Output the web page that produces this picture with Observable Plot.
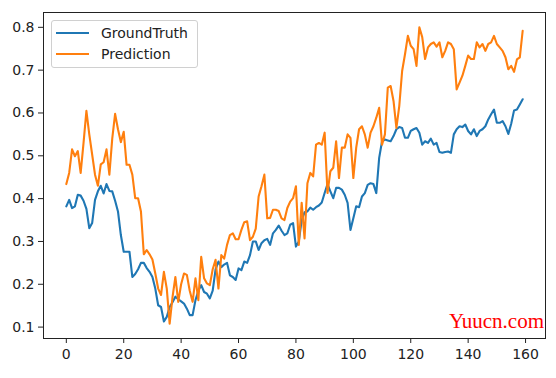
<!DOCTYPE html>
<html>
<head>
<meta charset="utf-8">
<script src="https://cdn.jsdelivr.net/npm/d3@7"></script>
<script src="https://cdn.jsdelivr.net/npm/@observablehq/plot@0.6"></script>
<style>
  html, body { margin: 0; padding: 0; background: #fff; }
  #wrap { position: relative; width: 556px; height: 378px; font-family: "DejaVu Sans", sans-serif; }
  #legend { position: absolute; left: 51px; top: 20px; width: 145px; height: 46px;
    border: 1px solid #d0d0d0; border-radius: 3px; background: rgba(255,255,255,0.85); }
  .lg-row { position: absolute; left: 4px; height: 20px; display: flex; align-items: center; font-size: 14px; color: #222; }
  .lg-row span.sw { display: inline-block; width: 33px; height: 2px; margin-right: 12px; }
  #wm { position: absolute; right: 12px; top: 309px; line-height: 24px; font-family: "Liberation Serif", "DejaVu Serif", serif; font-size: 21px; color: #f00; }
</style>
</head>
<body>
<div id="wrap"></div>
<script>
const seriesNames = ["GroundTruth", "Prediction"];
const seriesColors = ["#1f77b4", "#ff7f0e"];
const xTicks = [0, 20, 40, 60, 80, 100, 120, 140, 160];
const yTicks = [0.1, 0.2, 0.3, 0.4, 0.5, 0.6, 0.7, 0.8];

const groundTruth = [
  0.382, 0.397, 0.378, 0.382, 0.409, 0.407, 0.395, 0.376, 0.331, 0.343,
  0.397, 0.417, 0.430, 0.412, 0.434, 0.418, 0.417, 0.395, 0.370, 0.315,
  0.276, 0.276, 0.276, 0.217, 0.224, 0.235, 0.250, 0.250, 0.238, 0.229,
  0.217, 0.190, 0.151, 0.147, 0.113, 0.124, 0.147, 0.158, 0.171, 0.165,
  0.160, 0.155, 0.143, 0.128, 0.128, 0.163, 0.185, 0.198, 0.182, 0.178,
  0.167, 0.185, 0.235, 0.253, 0.240, 0.246, 0.250, 0.221, 0.217, 0.210,
  0.237, 0.233, 0.253, 0.250, 0.268, 0.300, 0.300, 0.280, 0.296, 0.303,
  0.306, 0.292, 0.319, 0.327, 0.337, 0.325, 0.315, 0.319, 0.339, 0.343,
  0.288, 0.300, 0.350, 0.368, 0.370, 0.379, 0.374, 0.380, 0.384, 0.391,
  0.413, 0.434, 0.417, 0.401, 0.425, 0.425, 0.421, 0.409, 0.390, 0.327,
  0.354, 0.382, 0.380, 0.405, 0.413, 0.432, 0.436, 0.434, 0.413, 0.495,
  0.534, 0.538, 0.536, 0.534, 0.546, 0.562, 0.567, 0.565, 0.542, 0.542,
  0.558, 0.562, 0.565, 0.554, 0.526, 0.534, 0.530, 0.540, 0.526, 0.530,
  0.509, 0.507, 0.509, 0.510, 0.507, 0.550, 0.562, 0.569, 0.567, 0.573,
  0.558, 0.550, 0.562, 0.546, 0.558, 0.562, 0.569, 0.585, 0.597, 0.608,
  0.577, 0.577, 0.581, 0.569, 0.551, 0.575, 0.606, 0.608, 0.620, 0.632
];

const prediction = [
  0.434, 0.460, 0.515, 0.499, 0.511, 0.460, 0.530, 0.605, 0.550, 0.503,
  0.456, 0.430, 0.480, 0.485, 0.515, 0.456, 0.540, 0.598, 0.562, 0.532,
  0.556, 0.479, 0.479, 0.456, 0.401, 0.401, 0.370, 0.270, 0.280, 0.270,
  0.258, 0.225, 0.190, 0.175, 0.229, 0.190, 0.108, 0.170, 0.217, 0.159,
  0.200, 0.225, 0.222, 0.185, 0.159, 0.214, 0.163, 0.264, 0.214, 0.202,
  0.198, 0.235, 0.257, 0.190, 0.268, 0.260, 0.292, 0.315, 0.319, 0.305,
  0.305, 0.327, 0.345, 0.347, 0.303, 0.311, 0.330, 0.405, 0.429, 0.456,
  0.354, 0.355, 0.374, 0.374, 0.371, 0.354, 0.350, 0.378, 0.393, 0.401,
  0.429, 0.292, 0.390, 0.307, 0.436, 0.460, 0.452, 0.526, 0.530, 0.526,
  0.554, 0.413, 0.464, 0.472, 0.534, 0.448, 0.519, 0.519, 0.550, 0.542,
  0.448, 0.519, 0.562, 0.569, 0.550, 0.519, 0.554, 0.569, 0.589, 0.612,
  0.526, 0.550, 0.659, 0.663, 0.628, 0.565, 0.616, 0.698, 0.737, 0.780,
  0.757, 0.749, 0.710, 0.800, 0.777, 0.726, 0.753, 0.761, 0.765, 0.755,
  0.765, 0.730, 0.745, 0.765, 0.761, 0.749, 0.655, 0.671, 0.687, 0.710,
  0.734, 0.726, 0.726, 0.765, 0.753, 0.761, 0.745, 0.761, 0.765, 0.780,
  0.761, 0.753, 0.745, 0.730, 0.702, 0.710, 0.696, 0.725, 0.730, 0.792
];

const gtRows = groundTruth.map((v, i) => ({i, v}));
const prRows = prediction.map((v, i) => ({i, v}));

const n = groundTruth.length;
const xPad = (n - 1) * 0.05;
const [lo, hi] = d3.extent([...groundTruth, ...prediction]);
const yPad = (hi - lo) * 0.05;

const chart = Plot.plot({
  width: 556,
  height: 378,
  marginLeft: 43,
  marginRight: 11,
  marginTop: 12,
  marginBottom: 40,
  style: {fontFamily: "DejaVu Sans, sans-serif", fontSize: "14px", color: "#222", background: "#fff"},
  x: {domain: [-xPad, n - 1 + xPad]},
  y: {domain: [lo - yPad, hi + yPad]},
  marks: [
    Plot.line(gtRows, {x: "i", y: "v", stroke: seriesColors[0], strokeWidth: 2.1}),
    Plot.line(prRows, {x: "i", y: "v", stroke: seriesColors[1], strokeWidth: 2.1}),
    Plot.frame({stroke: "#222", strokeWidth: 1}),
    Plot.axisX({ticks: xTicks, tickSize: 5, tickPadding: 6, label: null, fontSize: 14, tickFormat: d3.format("d")}),
    Plot.axisY({ticks: yTicks, tickSize: 5, tickPadding: 4, label: null, fontSize: 14, tickFormat: d3.format(".1f")})
  ]
});

const wrap = document.getElementById("wrap");
wrap.appendChild(chart);

const legend = document.createElement("div");
legend.id = "legend";
seriesNames.forEach((name, k) => {
  const row = document.createElement("div");
  row.className = "lg-row";
  row.style.top = (2 + k * 21) + "px";
  const sw = document.createElement("span");
  sw.className = "sw";
  sw.style.background = seriesColors[k];
  row.appendChild(sw);
  row.appendChild(document.createTextNode(name));
  legend.appendChild(row);
});
wrap.appendChild(legend);

const wm = document.createElement("div");
wm.id = "wm";
wm.textContent = "Yuucn.com";
wrap.appendChild(wm);
</script>
</body>
</html>
